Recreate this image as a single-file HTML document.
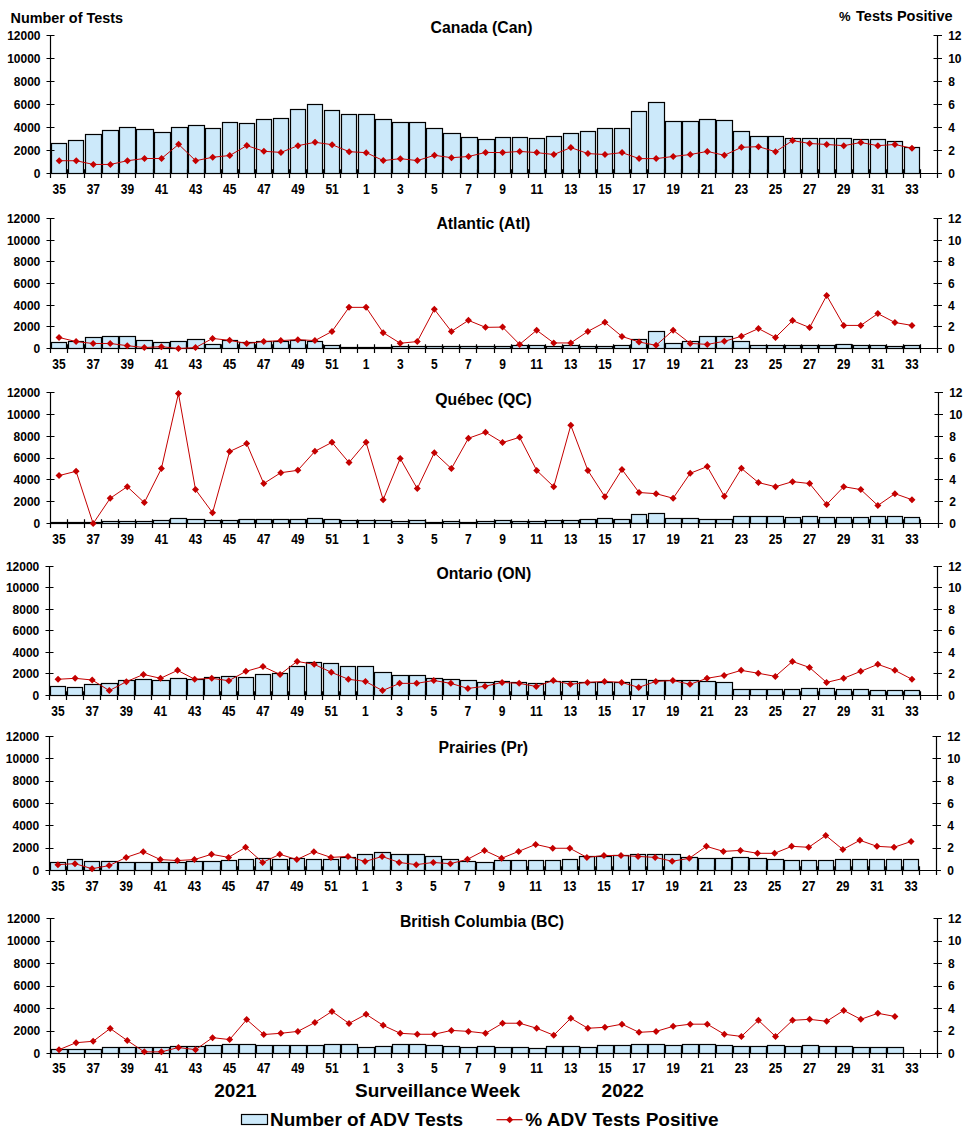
<!DOCTYPE html><html><head><meta charset="utf-8"><style>html,body{margin:0;padding:0;background:#fff;}svg{display:block;}text{font-family:"Liberation Sans", sans-serif;font-weight:bold;fill:#000;}</style></head><body>
<svg width="967" height="1140" viewBox="0 0 967 1140">
<rect width="967" height="1140" fill="#fff"/>
<text x="10.5" y="22.9" font-size="14.4">Number of Tests</text>
<text x="838.9" y="21" font-size="13">%</text><text x="856.1" y="21" font-size="14.5">Tests Positive</text>
<g fill="#CCE9FA" stroke="#000" stroke-width="1.20"><rect x="51.5" y="143.5" width="15.0" height="30.0"/><rect x="68.5" y="140.5" width="15.0" height="33.0"/><rect x="85.5" y="134.5" width="16.0" height="39.0"/><rect x="102.5" y="130.5" width="16.0" height="43.0"/><rect x="119.5" y="127.5" width="16.0" height="46.0"/><rect x="136.5" y="129.5" width="17.0" height="44.0"/><rect x="154.5" y="132.5" width="16.0" height="41.0"/><rect x="171.5" y="127.5" width="16.0" height="46.0"/><rect x="188.5" y="125.5" width="16.0" height="48.0"/><rect x="205.5" y="128.5" width="15.0" height="45.0"/><rect x="222.5" y="122.5" width="15.0" height="51.0"/><rect x="239.5" y="123.5" width="15.0" height="50.0"/><rect x="256.5" y="119.5" width="15.0" height="54.0"/><rect x="273.5" y="118.5" width="15.0" height="55.0"/><rect x="290.5" y="109.5" width="15.0" height="64.0"/><rect x="307.5" y="104.5" width="15.0" height="69.0"/><rect x="324.5" y="110.5" width="15.0" height="63.0"/><rect x="341.5" y="114.5" width="15.0" height="59.0"/><rect x="358.5" y="114.5" width="16.0" height="59.0"/><rect x="375.5" y="119.5" width="16.0" height="54.0"/><rect x="392.5" y="122.5" width="16.0" height="51.0"/><rect x="409.5" y="122.5" width="16.0" height="51.0"/><rect x="426.5" y="128.5" width="16.0" height="45.0"/><rect x="443.5" y="133.5" width="17.0" height="40.0"/><rect x="461.5" y="137.5" width="16.0" height="36.0"/><rect x="478.5" y="139.5" width="16.0" height="34.0"/><rect x="495.5" y="137.5" width="15.0" height="36.0"/><rect x="512.5" y="137.5" width="15.0" height="36.0"/><rect x="529.5" y="138.5" width="15.0" height="35.0"/><rect x="546.5" y="136.5" width="15.0" height="37.0"/><rect x="563.5" y="133.5" width="15.0" height="40.0"/><rect x="580.5" y="131.5" width="15.0" height="42.0"/><rect x="597.5" y="128.5" width="15.0" height="45.0"/><rect x="614.5" y="128.5" width="15.0" height="45.0"/><rect x="631.5" y="111.5" width="15.0" height="62.0"/><rect x="648.5" y="102.5" width="16.0" height="71.0"/><rect x="665.5" y="121.5" width="16.0" height="52.0"/><rect x="682.5" y="121.5" width="16.0" height="52.0"/><rect x="699.5" y="119.5" width="16.0" height="54.0"/><rect x="716.5" y="120.5" width="16.0" height="53.0"/><rect x="733.5" y="131.5" width="16.0" height="42.0"/><rect x="750.5" y="136.5" width="17.0" height="37.0"/><rect x="768.5" y="136.5" width="15.0" height="37.0"/><rect x="785.5" y="138.5" width="15.0" height="35.0"/><rect x="802.5" y="138.5" width="15.0" height="35.0"/><rect x="819.5" y="138.5" width="15.0" height="35.0"/><rect x="836.5" y="138.5" width="15.0" height="35.0"/><rect x="853.5" y="139.5" width="15.0" height="34.0"/><rect x="870.5" y="139.5" width="15.0" height="34.0"/><rect x="887.5" y="141.5" width="15.0" height="32.0"/><rect x="904.5" y="147.5" width="15.0" height="26.0"/></g>
<path d="M50.5 35.50 V173.5 M937.5 35.50 V173.5 M50.5 173.5 H937.5 M46.5 173.5 H54.5 M933.5 173.5 H942.0 M46.5 150.5 H54.5 M933.5 150.5 H942.0 M46.5 127.5 H54.5 M933.5 127.5 H942.0 M46.5 104.5 H54.5 M933.5 104.5 H942.0 M46.5 81.5 H54.5 M933.5 81.5 H942.0 M46.5 58.5 H54.5 M933.5 58.5 H942.0 M46.5 35.5 H54.5 M933.5 35.5 H942.0 M50.5 169.3 V177.9 M67.5 169.3 V177.9 M84.5 169.3 V177.9 M101.5 169.3 V177.9 M118.5 169.3 V177.9 M135.5 169.3 V177.9 M153.5 169.3 V177.9 M170.5 169.3 V177.9 M187.5 169.3 V177.9 M204.5 169.3 V177.9 M221.5 169.3 V177.9 M238.5 169.3 V177.9 M255.5 169.3 V177.9 M272.5 169.3 V177.9 M289.5 169.3 V177.9 M306.5 169.3 V177.9 M323.5 169.3 V177.9 M340.5 169.3 V177.9 M357.5 169.3 V177.9 M374.5 169.3 V177.9 M391.5 169.3 V177.9 M408.5 169.3 V177.9 M425.5 169.3 V177.9 M442.5 169.3 V177.9 M460.5 169.3 V177.9 M477.5 169.3 V177.9 M494.5 169.3 V177.9 M511.5 169.3 V177.9 M528.5 169.3 V177.9 M545.5 169.3 V177.9 M562.5 169.3 V177.9 M579.5 169.3 V177.9 M596.5 169.3 V177.9 M613.5 169.3 V177.9 M630.5 169.3 V177.9 M647.5 169.3 V177.9 M664.5 169.3 V177.9 M681.5 169.3 V177.9 M698.5 169.3 V177.9 M715.5 169.3 V177.9 M732.5 169.3 V177.9 M749.5 169.3 V177.9 M767.5 169.3 V177.9 M784.5 169.3 V177.9 M801.5 169.3 V177.9 M818.5 169.3 V177.9 M835.5 169.3 V177.9 M852.5 169.3 V177.9 M869.5 169.3 V177.9 M886.5 169.3 V177.9 M903.5 169.3 V177.9 M920.5 169.3 V177.9 M937.5 169.3 V177.9" stroke="#000" stroke-width="1.20" fill="none"/>
<polyline points="59.23,160.72 76.28,160.72 93.34,164.44 110.39,164.44 127.45,160.72 144.50,158.49 161.56,158.49 178.61,144.34 195.67,160.72 212.72,157.25 229.78,155.51 246.83,145.58 263.89,151.29 280.94,152.41 298.00,145.66 315.05,142.29 332.11,144.70 349.16,151.69 366.22,152.65 383.27,160.60 400.33,158.67 417.38,160.60 434.44,155.30 451.49,157.71 468.55,156.51 485.60,152.41 502.65,152.62 519.71,151.42 536.76,152.62 553.82,154.54 570.87,147.58 587.93,153.58 604.98,154.54 622.04,152.62 639.09,158.62 656.15,158.62 673.20,156.46 690.26,154.54 707.31,151.42 724.37,155.30 741.42,147.35 758.48,146.63 775.53,151.69 792.59,140.60 809.64,143.49 826.70,144.46 843.75,145.66 860.81,142.53 877.86,145.66 894.92,144.46 911.97,148.31" fill="none" stroke="#C40000" stroke-width="1"/>
<path d="M59.23 157.22 l3.5 3.5 l-3.5 3.5 l-3.5 -3.5z M76.28 157.22 l3.5 3.5 l-3.5 3.5 l-3.5 -3.5z M93.34 160.94 l3.5 3.5 l-3.5 3.5 l-3.5 -3.5z M110.39 160.94 l3.5 3.5 l-3.5 3.5 l-3.5 -3.5z M127.45 157.22 l3.5 3.5 l-3.5 3.5 l-3.5 -3.5z M144.50 154.99 l3.5 3.5 l-3.5 3.5 l-3.5 -3.5z M161.56 154.99 l3.5 3.5 l-3.5 3.5 l-3.5 -3.5z M178.61 140.84 l3.5 3.5 l-3.5 3.5 l-3.5 -3.5z M195.67 157.22 l3.5 3.5 l-3.5 3.5 l-3.5 -3.5z M212.72 153.75 l3.5 3.5 l-3.5 3.5 l-3.5 -3.5z M229.78 152.01 l3.5 3.5 l-3.5 3.5 l-3.5 -3.5z M246.83 142.08 l3.5 3.5 l-3.5 3.5 l-3.5 -3.5z M263.89 147.79 l3.5 3.5 l-3.5 3.5 l-3.5 -3.5z M280.94 148.91 l3.5 3.5 l-3.5 3.5 l-3.5 -3.5z M298.00 142.16 l3.5 3.5 l-3.5 3.5 l-3.5 -3.5z M315.05 138.79 l3.5 3.5 l-3.5 3.5 l-3.5 -3.5z M332.11 141.20 l3.5 3.5 l-3.5 3.5 l-3.5 -3.5z M349.16 148.19 l3.5 3.5 l-3.5 3.5 l-3.5 -3.5z M366.22 149.15 l3.5 3.5 l-3.5 3.5 l-3.5 -3.5z M383.27 157.10 l3.5 3.5 l-3.5 3.5 l-3.5 -3.5z M400.33 155.17 l3.5 3.5 l-3.5 3.5 l-3.5 -3.5z M417.38 157.10 l3.5 3.5 l-3.5 3.5 l-3.5 -3.5z M434.44 151.80 l3.5 3.5 l-3.5 3.5 l-3.5 -3.5z M451.49 154.21 l3.5 3.5 l-3.5 3.5 l-3.5 -3.5z M468.55 153.01 l3.5 3.5 l-3.5 3.5 l-3.5 -3.5z M485.60 148.91 l3.5 3.5 l-3.5 3.5 l-3.5 -3.5z M502.65 149.12 l3.5 3.5 l-3.5 3.5 l-3.5 -3.5z M519.71 147.92 l3.5 3.5 l-3.5 3.5 l-3.5 -3.5z M536.76 149.12 l3.5 3.5 l-3.5 3.5 l-3.5 -3.5z M553.82 151.04 l3.5 3.5 l-3.5 3.5 l-3.5 -3.5z M570.87 144.08 l3.5 3.5 l-3.5 3.5 l-3.5 -3.5z M587.93 150.08 l3.5 3.5 l-3.5 3.5 l-3.5 -3.5z M604.98 151.04 l3.5 3.5 l-3.5 3.5 l-3.5 -3.5z M622.04 149.12 l3.5 3.5 l-3.5 3.5 l-3.5 -3.5z M639.09 155.12 l3.5 3.5 l-3.5 3.5 l-3.5 -3.5z M656.15 155.12 l3.5 3.5 l-3.5 3.5 l-3.5 -3.5z M673.20 152.96 l3.5 3.5 l-3.5 3.5 l-3.5 -3.5z M690.26 151.04 l3.5 3.5 l-3.5 3.5 l-3.5 -3.5z M707.31 147.92 l3.5 3.5 l-3.5 3.5 l-3.5 -3.5z M724.37 151.80 l3.5 3.5 l-3.5 3.5 l-3.5 -3.5z M741.42 143.85 l3.5 3.5 l-3.5 3.5 l-3.5 -3.5z M758.48 143.13 l3.5 3.5 l-3.5 3.5 l-3.5 -3.5z M775.53 148.19 l3.5 3.5 l-3.5 3.5 l-3.5 -3.5z M792.59 137.10 l3.5 3.5 l-3.5 3.5 l-3.5 -3.5z M809.64 139.99 l3.5 3.5 l-3.5 3.5 l-3.5 -3.5z M826.70 140.96 l3.5 3.5 l-3.5 3.5 l-3.5 -3.5z M843.75 142.16 l3.5 3.5 l-3.5 3.5 l-3.5 -3.5z M860.81 139.03 l3.5 3.5 l-3.5 3.5 l-3.5 -3.5z M877.86 142.16 l3.5 3.5 l-3.5 3.5 l-3.5 -3.5z M894.92 140.96 l3.5 3.5 l-3.5 3.5 l-3.5 -3.5z M911.97 144.81 l3.5 3.5 l-3.5 3.5 l-3.5 -3.5z" fill="#C40000"/>
<text x="40.50" y="177.80" font-size="12" text-anchor="end">0</text><text x="948.20" y="177.80" font-size="12">0</text><text x="40.50" y="154.80" font-size="12" text-anchor="end">2000</text><text x="948.20" y="154.80" font-size="12">2</text><text x="40.50" y="131.80" font-size="12" text-anchor="end">4000</text><text x="948.20" y="131.80" font-size="12">4</text><text x="40.50" y="108.80" font-size="12" text-anchor="end">6000</text><text x="948.20" y="108.80" font-size="12">6</text><text x="40.50" y="85.80" font-size="12" text-anchor="end">8000</text><text x="948.20" y="85.80" font-size="12">8</text><text x="40.50" y="62.80" font-size="12" text-anchor="end">10000</text><text x="948.20" y="62.80" font-size="12">10</text><text x="40.50" y="39.80" font-size="12" text-anchor="end">12000</text><text x="948.20" y="39.80" font-size="12">12</text><text transform="translate(59.23 193.90) scale(1 1.15)" font-size="12" text-anchor="middle">35</text><text transform="translate(93.34 193.90) scale(1 1.15)" font-size="12" text-anchor="middle">37</text><text transform="translate(127.45 193.90) scale(1 1.15)" font-size="12" text-anchor="middle">39</text><text transform="translate(161.56 193.90) scale(1 1.15)" font-size="12" text-anchor="middle">41</text><text transform="translate(195.67 193.90) scale(1 1.15)" font-size="12" text-anchor="middle">43</text><text transform="translate(229.78 193.90) scale(1 1.15)" font-size="12" text-anchor="middle">45</text><text transform="translate(263.89 193.90) scale(1 1.15)" font-size="12" text-anchor="middle">47</text><text transform="translate(298.00 193.90) scale(1 1.15)" font-size="12" text-anchor="middle">49</text><text transform="translate(332.11 193.90) scale(1 1.15)" font-size="12" text-anchor="middle">51</text><text transform="translate(366.22 193.90) scale(1 1.15)" font-size="12" text-anchor="middle">1</text><text transform="translate(400.33 193.90) scale(1 1.15)" font-size="12" text-anchor="middle">3</text><text transform="translate(434.44 193.90) scale(1 1.15)" font-size="12" text-anchor="middle">5</text><text transform="translate(468.55 193.90) scale(1 1.15)" font-size="12" text-anchor="middle">7</text><text transform="translate(502.65 193.90) scale(1 1.15)" font-size="12" text-anchor="middle">9</text><text transform="translate(536.76 193.90) scale(1 1.15)" font-size="12" text-anchor="middle">11</text><text transform="translate(570.87 193.90) scale(1 1.15)" font-size="12" text-anchor="middle">13</text><text transform="translate(604.98 193.90) scale(1 1.15)" font-size="12" text-anchor="middle">15</text><text transform="translate(639.09 193.90) scale(1 1.15)" font-size="12" text-anchor="middle">17</text><text transform="translate(673.20 193.90) scale(1 1.15)" font-size="12" text-anchor="middle">19</text><text transform="translate(707.31 193.90) scale(1 1.15)" font-size="12" text-anchor="middle">21</text><text transform="translate(741.42 193.90) scale(1 1.15)" font-size="12" text-anchor="middle">23</text><text transform="translate(775.53 193.90) scale(1 1.15)" font-size="12" text-anchor="middle">25</text><text transform="translate(809.64 193.90) scale(1 1.15)" font-size="12" text-anchor="middle">27</text><text transform="translate(843.75 193.90) scale(1 1.15)" font-size="12" text-anchor="middle">29</text><text transform="translate(877.86 193.90) scale(1 1.15)" font-size="12" text-anchor="middle">31</text><text transform="translate(911.97 193.90) scale(1 1.15)" font-size="12" text-anchor="middle">33</text>
<text x="481.5" y="32.7" font-size="15.8" text-anchor="middle">Canada (Can)</text>
<g fill="#CCE9FA" stroke="#000" stroke-width="1.20"><rect x="51.5" y="342.5" width="15.0" height="6.0"/><rect x="68.5" y="341.5" width="15.0" height="7.0"/><rect x="85.5" y="337.5" width="16.0" height="11.0"/><rect x="102.5" y="336.5" width="16.0" height="12.0"/><rect x="119.5" y="336.5" width="16.0" height="12.0"/><rect x="136.5" y="340.5" width="16.0" height="8.0"/><rect x="153.5" y="342.5" width="16.0" height="6.0"/><rect x="170.5" y="341.5" width="16.0" height="7.0"/><rect x="187.5" y="339.5" width="17.0" height="9.0"/><rect x="205.5" y="344.5" width="15.0" height="4.0"/><rect x="222.5" y="340.5" width="15.0" height="8.0"/><rect x="239.5" y="342.5" width="15.0" height="6.0"/><rect x="256.5" y="341.5" width="15.0" height="7.0"/><rect x="273.5" y="341.5" width="15.0" height="7.0"/><rect x="290.5" y="340.5" width="15.0" height="8.0"/><rect x="307.5" y="341.5" width="15.0" height="7.0"/><rect x="324.5" y="345.5" width="15.0" height="3.0"/><rect x="341.5" y="347.5" width="15.0" height="1.0"/><rect x="358.5" y="347.5" width="16.0" height="1.0"/><rect x="375.5" y="347.5" width="16.0" height="1.0"/><rect x="392.5" y="346.5" width="16.0" height="2.0"/><rect x="409.5" y="346.5" width="16.0" height="2.0"/><rect x="426.5" y="346.5" width="16.0" height="2.0"/><rect x="443.5" y="346.5" width="16.0" height="2.0"/><rect x="460.5" y="346.5" width="16.0" height="2.0"/><rect x="477.5" y="346.5" width="17.0" height="2.0"/><rect x="495.5" y="346.5" width="15.0" height="2.0"/><rect x="512.5" y="345.5" width="15.0" height="3.0"/><rect x="529.5" y="345.5" width="15.0" height="3.0"/><rect x="546.5" y="346.5" width="15.0" height="2.0"/><rect x="563.5" y="345.5" width="15.0" height="3.0"/><rect x="580.5" y="346.5" width="15.0" height="2.0"/><rect x="597.5" y="346.5" width="15.0" height="2.0"/><rect x="614.5" y="345.5" width="15.0" height="3.0"/><rect x="631.5" y="339.5" width="15.0" height="9.0"/><rect x="648.5" y="331.5" width="16.0" height="17.0"/><rect x="665.5" y="343.5" width="16.0" height="5.0"/><rect x="682.5" y="341.5" width="16.0" height="7.0"/><rect x="699.5" y="336.5" width="16.0" height="12.0"/><rect x="716.5" y="336.5" width="16.0" height="12.0"/><rect x="733.5" y="341.5" width="16.0" height="7.0"/><rect x="750.5" y="345.5" width="16.0" height="3.0"/><rect x="767.5" y="345.5" width="16.0" height="3.0"/><rect x="785.5" y="345.5" width="15.0" height="3.0"/><rect x="802.5" y="345.5" width="15.0" height="3.0"/><rect x="819.5" y="345.5" width="15.0" height="3.0"/><rect x="836.5" y="344.5" width="15.0" height="4.0"/><rect x="853.5" y="345.5" width="15.0" height="3.0"/><rect x="870.5" y="345.5" width="15.0" height="3.0"/><rect x="887.5" y="346.5" width="15.0" height="2.0"/><rect x="904.5" y="345.5" width="15.0" height="3.0"/></g>
<path d="M50.5 218.60 V348.5 M937.5 218.60 V348.5 M50.5 348.5 H937.5 M46.5 348.5 H54.5 M933.5 348.5 H942.0 M46.5 326.5 H54.5 M933.5 326.5 H942.0 M46.5 305.5 H54.5 M933.5 305.5 H942.0 M46.5 283.5 H54.5 M933.5 283.5 H942.0 M46.5 261.5 H54.5 M933.5 261.5 H942.0 M46.5 240.5 H54.5 M933.5 240.5 H942.0 M46.5 218.5 H54.5 M933.5 218.5 H942.0 M50.5 344.3 V352.9 M67.5 344.3 V352.9 M84.5 344.3 V352.9 M101.5 344.3 V352.9 M118.5 344.3 V352.9 M135.5 344.3 V352.9 M152.5 344.3 V352.9 M169.5 344.3 V352.9 M186.5 344.3 V352.9 M204.5 344.3 V352.9 M221.5 344.3 V352.9 M238.5 344.3 V352.9 M255.5 344.3 V352.9 M272.5 344.3 V352.9 M289.5 344.3 V352.9 M306.5 344.3 V352.9 M323.5 344.3 V352.9 M340.5 344.3 V352.9 M357.5 344.3 V352.9 M374.5 344.3 V352.9 M391.5 344.3 V352.9 M408.5 344.3 V352.9 M425.5 344.3 V352.9 M442.5 344.3 V352.9 M459.5 344.3 V352.9 M476.5 344.3 V352.9 M494.5 344.3 V352.9 M511.5 344.3 V352.9 M528.5 344.3 V352.9 M545.5 344.3 V352.9 M562.5 344.3 V352.9 M579.5 344.3 V352.9 M596.5 344.3 V352.9 M613.5 344.3 V352.9 M630.5 344.3 V352.9 M647.5 344.3 V352.9 M664.5 344.3 V352.9 M681.5 344.3 V352.9 M698.5 344.3 V352.9 M715.5 344.3 V352.9 M732.5 344.3 V352.9 M749.5 344.3 V352.9 M766.5 344.3 V352.9 M784.5 344.3 V352.9 M801.5 344.3 V352.9 M818.5 344.3 V352.9 M835.5 344.3 V352.9 M852.5 344.3 V352.9 M869.5 344.3 V352.9 M886.5 344.3 V352.9 M903.5 344.3 V352.9 M920.5 344.3 V352.9 M937.5 344.3 V352.9" stroke="#000" stroke-width="1.20" fill="none"/>
<polyline points="59.03,337.47 76.09,341.57 93.15,343.49 110.21,343.49 127.26,345.66 144.32,347.59 161.38,346.63 178.44,348.55 195.50,347.59 212.56,338.43 229.62,340.36 246.68,343.49 263.74,341.57 280.79,340.60 297.85,339.64 314.91,340.60 331.97,331.45 349.03,307.35 366.09,307.35 383.15,332.65 400.21,343.25 417.26,341.57 434.32,309.28 451.38,331.45 468.44,320.36 485.50,327.35 502.56,327.10 519.62,344.38 536.68,330.22 553.74,342.94 570.79,342.94 587.85,331.42 604.91,322.30 621.97,336.46 639.03,341.98 656.09,345.34 673.15,330.22 690.21,343.42 707.26,344.38 724.32,341.33 741.38,336.27 758.44,328.55 775.50,337.47 792.56,320.60 809.62,327.59 826.68,295.54 843.74,325.42 860.79,325.42 877.85,313.61 894.91,322.53 911.97,325.42" fill="none" stroke="#C40000" stroke-width="1"/>
<path d="M59.03 333.97 l3.5 3.5 l-3.5 3.5 l-3.5 -3.5z M76.09 338.07 l3.5 3.5 l-3.5 3.5 l-3.5 -3.5z M93.15 339.99 l3.5 3.5 l-3.5 3.5 l-3.5 -3.5z M110.21 339.99 l3.5 3.5 l-3.5 3.5 l-3.5 -3.5z M127.26 342.16 l3.5 3.5 l-3.5 3.5 l-3.5 -3.5z M144.32 344.09 l3.5 3.5 l-3.5 3.5 l-3.5 -3.5z M161.38 343.13 l3.5 3.5 l-3.5 3.5 l-3.5 -3.5z M178.44 345.05 l3.5 3.5 l-3.5 3.5 l-3.5 -3.5z M195.50 344.09 l3.5 3.5 l-3.5 3.5 l-3.5 -3.5z M212.56 334.93 l3.5 3.5 l-3.5 3.5 l-3.5 -3.5z M229.62 336.86 l3.5 3.5 l-3.5 3.5 l-3.5 -3.5z M246.68 339.99 l3.5 3.5 l-3.5 3.5 l-3.5 -3.5z M263.74 338.07 l3.5 3.5 l-3.5 3.5 l-3.5 -3.5z M280.79 337.10 l3.5 3.5 l-3.5 3.5 l-3.5 -3.5z M297.85 336.14 l3.5 3.5 l-3.5 3.5 l-3.5 -3.5z M314.91 337.10 l3.5 3.5 l-3.5 3.5 l-3.5 -3.5z M331.97 327.95 l3.5 3.5 l-3.5 3.5 l-3.5 -3.5z M349.03 303.85 l3.5 3.5 l-3.5 3.5 l-3.5 -3.5z M366.09 303.85 l3.5 3.5 l-3.5 3.5 l-3.5 -3.5z M383.15 329.15 l3.5 3.5 l-3.5 3.5 l-3.5 -3.5z M400.21 339.75 l3.5 3.5 l-3.5 3.5 l-3.5 -3.5z M417.26 338.07 l3.5 3.5 l-3.5 3.5 l-3.5 -3.5z M434.32 305.78 l3.5 3.5 l-3.5 3.5 l-3.5 -3.5z M451.38 327.95 l3.5 3.5 l-3.5 3.5 l-3.5 -3.5z M468.44 316.86 l3.5 3.5 l-3.5 3.5 l-3.5 -3.5z M485.50 323.85 l3.5 3.5 l-3.5 3.5 l-3.5 -3.5z M502.56 323.60 l3.5 3.5 l-3.5 3.5 l-3.5 -3.5z M519.62 340.88 l3.5 3.5 l-3.5 3.5 l-3.5 -3.5z M536.68 326.72 l3.5 3.5 l-3.5 3.5 l-3.5 -3.5z M553.74 339.44 l3.5 3.5 l-3.5 3.5 l-3.5 -3.5z M570.79 339.44 l3.5 3.5 l-3.5 3.5 l-3.5 -3.5z M587.85 327.92 l3.5 3.5 l-3.5 3.5 l-3.5 -3.5z M604.91 318.80 l3.5 3.5 l-3.5 3.5 l-3.5 -3.5z M621.97 332.96 l3.5 3.5 l-3.5 3.5 l-3.5 -3.5z M639.03 338.48 l3.5 3.5 l-3.5 3.5 l-3.5 -3.5z M656.09 341.84 l3.5 3.5 l-3.5 3.5 l-3.5 -3.5z M673.15 326.72 l3.5 3.5 l-3.5 3.5 l-3.5 -3.5z M690.21 339.92 l3.5 3.5 l-3.5 3.5 l-3.5 -3.5z M707.26 340.88 l3.5 3.5 l-3.5 3.5 l-3.5 -3.5z M724.32 337.83 l3.5 3.5 l-3.5 3.5 l-3.5 -3.5z M741.38 332.77 l3.5 3.5 l-3.5 3.5 l-3.5 -3.5z M758.44 325.05 l3.5 3.5 l-3.5 3.5 l-3.5 -3.5z M775.50 333.97 l3.5 3.5 l-3.5 3.5 l-3.5 -3.5z M792.56 317.10 l3.5 3.5 l-3.5 3.5 l-3.5 -3.5z M809.62 324.09 l3.5 3.5 l-3.5 3.5 l-3.5 -3.5z M826.68 292.04 l3.5 3.5 l-3.5 3.5 l-3.5 -3.5z M843.74 321.92 l3.5 3.5 l-3.5 3.5 l-3.5 -3.5z M860.79 321.92 l3.5 3.5 l-3.5 3.5 l-3.5 -3.5z M877.85 310.11 l3.5 3.5 l-3.5 3.5 l-3.5 -3.5z M894.91 319.03 l3.5 3.5 l-3.5 3.5 l-3.5 -3.5z M911.97 321.92 l3.5 3.5 l-3.5 3.5 l-3.5 -3.5z" fill="#C40000"/>
<text x="40.30" y="352.80" font-size="12" text-anchor="end">0</text><text x="948.10" y="352.80" font-size="12">0</text><text x="40.30" y="331.15" font-size="12" text-anchor="end">2000</text><text x="948.10" y="331.15" font-size="12">2</text><text x="40.30" y="309.50" font-size="12" text-anchor="end">4000</text><text x="948.10" y="309.50" font-size="12">4</text><text x="40.30" y="287.85" font-size="12" text-anchor="end">6000</text><text x="948.10" y="287.85" font-size="12">6</text><text x="40.30" y="266.20" font-size="12" text-anchor="end">8000</text><text x="948.10" y="266.20" font-size="12">8</text><text x="40.30" y="244.55" font-size="12" text-anchor="end">10000</text><text x="948.10" y="244.55" font-size="12">10</text><text x="40.30" y="222.90" font-size="12" text-anchor="end">12000</text><text x="948.10" y="222.90" font-size="12">12</text><text transform="translate(59.03 368.90) scale(1 1.15)" font-size="12" text-anchor="middle">35</text><text transform="translate(93.15 368.90) scale(1 1.15)" font-size="12" text-anchor="middle">37</text><text transform="translate(127.26 368.90) scale(1 1.15)" font-size="12" text-anchor="middle">39</text><text transform="translate(161.38 368.90) scale(1 1.15)" font-size="12" text-anchor="middle">41</text><text transform="translate(195.50 368.90) scale(1 1.15)" font-size="12" text-anchor="middle">43</text><text transform="translate(229.62 368.90) scale(1 1.15)" font-size="12" text-anchor="middle">45</text><text transform="translate(263.74 368.90) scale(1 1.15)" font-size="12" text-anchor="middle">47</text><text transform="translate(297.85 368.90) scale(1 1.15)" font-size="12" text-anchor="middle">49</text><text transform="translate(331.97 368.90) scale(1 1.15)" font-size="12" text-anchor="middle">51</text><text transform="translate(366.09 368.90) scale(1 1.15)" font-size="12" text-anchor="middle">1</text><text transform="translate(400.21 368.90) scale(1 1.15)" font-size="12" text-anchor="middle">3</text><text transform="translate(434.32 368.90) scale(1 1.15)" font-size="12" text-anchor="middle">5</text><text transform="translate(468.44 368.90) scale(1 1.15)" font-size="12" text-anchor="middle">7</text><text transform="translate(502.56 368.90) scale(1 1.15)" font-size="12" text-anchor="middle">9</text><text transform="translate(536.68 368.90) scale(1 1.15)" font-size="12" text-anchor="middle">11</text><text transform="translate(570.79 368.90) scale(1 1.15)" font-size="12" text-anchor="middle">13</text><text transform="translate(604.91 368.90) scale(1 1.15)" font-size="12" text-anchor="middle">15</text><text transform="translate(639.03 368.90) scale(1 1.15)" font-size="12" text-anchor="middle">17</text><text transform="translate(673.15 368.90) scale(1 1.15)" font-size="12" text-anchor="middle">19</text><text transform="translate(707.26 368.90) scale(1 1.15)" font-size="12" text-anchor="middle">21</text><text transform="translate(741.38 368.90) scale(1 1.15)" font-size="12" text-anchor="middle">23</text><text transform="translate(775.50 368.90) scale(1 1.15)" font-size="12" text-anchor="middle">25</text><text transform="translate(809.62 368.90) scale(1 1.15)" font-size="12" text-anchor="middle">27</text><text transform="translate(843.74 368.90) scale(1 1.15)" font-size="12" text-anchor="middle">29</text><text transform="translate(877.85 368.90) scale(1 1.15)" font-size="12" text-anchor="middle">31</text><text transform="translate(911.97 368.90) scale(1 1.15)" font-size="12" text-anchor="middle">33</text>
<text x="483.4" y="229.3" font-size="15.8" text-anchor="middle">Atlantic (Atl)</text>
<g fill="#CCE9FA" stroke="#000" stroke-width="1.20"><rect x="51.5" y="522.5" width="15.0" height="1.0"/><rect x="68.5" y="522.5" width="15.0" height="1.0"/><rect x="85.5" y="522.5" width="16.0" height="1.0"/><rect x="102.5" y="521.5" width="16.0" height="2.0"/><rect x="119.5" y="521.5" width="16.0" height="2.0"/><rect x="136.5" y="521.5" width="16.0" height="2.0"/><rect x="153.5" y="520.5" width="16.0" height="3.0"/><rect x="170.5" y="518.5" width="16.0" height="5.0"/><rect x="187.5" y="519.5" width="17.0" height="4.0"/><rect x="205.5" y="520.5" width="15.0" height="3.0"/><rect x="222.5" y="520.5" width="15.0" height="3.0"/><rect x="239.5" y="519.5" width="15.0" height="4.0"/><rect x="256.5" y="519.5" width="15.0" height="4.0"/><rect x="273.5" y="519.5" width="15.0" height="4.0"/><rect x="290.5" y="519.5" width="15.0" height="4.0"/><rect x="307.5" y="518.5" width="15.0" height="5.0"/><rect x="324.5" y="519.5" width="15.0" height="4.0"/><rect x="341.5" y="520.5" width="15.0" height="3.0"/><rect x="358.5" y="520.5" width="16.0" height="3.0"/><rect x="375.5" y="520.5" width="16.0" height="3.0"/><rect x="392.5" y="521.5" width="16.0" height="2.0"/><rect x="409.5" y="520.5" width="16.0" height="3.0"/><rect x="426.5" y="522.5" width="16.0" height="1.0"/><rect x="443.5" y="521.5" width="16.0" height="2.0"/><rect x="460.5" y="522.5" width="16.0" height="1.0"/><rect x="477.5" y="521.5" width="17.0" height="2.0"/><rect x="495.5" y="520.5" width="15.0" height="3.0"/><rect x="512.5" y="521.5" width="15.0" height="2.0"/><rect x="529.5" y="521.5" width="15.0" height="2.0"/><rect x="546.5" y="520.5" width="15.0" height="3.0"/><rect x="563.5" y="520.5" width="15.0" height="3.0"/><rect x="580.5" y="519.5" width="15.0" height="4.0"/><rect x="597.5" y="518.5" width="15.0" height="5.0"/><rect x="614.5" y="519.5" width="15.0" height="4.0"/><rect x="631.5" y="514.5" width="15.0" height="9.0"/><rect x="648.5" y="513.5" width="16.0" height="10.0"/><rect x="665.5" y="518.5" width="16.0" height="5.0"/><rect x="682.5" y="518.5" width="16.0" height="5.0"/><rect x="699.5" y="519.5" width="16.0" height="4.0"/><rect x="716.5" y="519.5" width="16.0" height="4.0"/><rect x="733.5" y="516.5" width="16.0" height="7.0"/><rect x="750.5" y="516.5" width="16.0" height="7.0"/><rect x="767.5" y="516.5" width="16.0" height="7.0"/><rect x="785.5" y="517.5" width="15.0" height="6.0"/><rect x="802.5" y="516.5" width="15.0" height="7.0"/><rect x="819.5" y="517.5" width="15.0" height="6.0"/><rect x="836.5" y="517.5" width="15.0" height="6.0"/><rect x="853.5" y="517.5" width="15.0" height="6.0"/><rect x="870.5" y="516.5" width="15.0" height="7.0"/><rect x="887.5" y="516.5" width="15.0" height="7.0"/><rect x="904.5" y="517.5" width="15.0" height="6.0"/></g>
<path d="M50.5 392.60 V523.5 M938.5 392.60 V523.5 M50.5 523.5 H938.5 M46.5 523.5 H54.5 M934.5 523.5 H943.0 M46.5 501.5 H54.5 M934.5 501.5 H943.0 M46.5 479.5 H54.5 M934.5 479.5 H943.0 M46.5 458.5 H54.5 M934.5 458.5 H943.0 M46.5 436.5 H54.5 M934.5 436.5 H943.0 M46.5 414.5 H54.5 M934.5 414.5 H943.0 M46.5 392.5 H54.5 M934.5 392.5 H943.0 M50.5 519.3 V527.9 M67.5 519.3 V527.9 M84.5 519.3 V527.9 M101.5 519.3 V527.9 M118.5 519.3 V527.9 M135.5 519.3 V527.9 M152.5 519.3 V527.9 M169.5 519.3 V527.9 M186.5 519.3 V527.9 M204.5 519.3 V527.9 M221.5 519.3 V527.9 M238.5 519.3 V527.9 M255.5 519.3 V527.9 M272.5 519.3 V527.9 M289.5 519.3 V527.9 M306.5 519.3 V527.9 M323.5 519.3 V527.9 M340.5 519.3 V527.9 M357.5 519.3 V527.9 M374.5 519.3 V527.9 M391.5 519.3 V527.9 M408.5 519.3 V527.9 M425.5 519.3 V527.9 M442.5 519.3 V527.9 M459.5 519.3 V527.9 M476.5 519.3 V527.9 M494.5 519.3 V527.9 M511.5 519.3 V527.9 M528.5 519.3 V527.9 M545.5 519.3 V527.9 M562.5 519.3 V527.9 M579.5 519.3 V527.9 M596.5 519.3 V527.9 M613.5 519.3 V527.9 M630.5 519.3 V527.9 M647.5 519.3 V527.9 M664.5 519.3 V527.9 M681.5 519.3 V527.9 M698.5 519.3 V527.9 M715.5 519.3 V527.9 M732.5 519.3 V527.9 M749.5 519.3 V527.9 M766.5 519.3 V527.9 M784.5 519.3 V527.9 M801.5 519.3 V527.9 M818.5 519.3 V527.9 M835.5 519.3 V527.9 M852.5 519.3 V527.9 M869.5 519.3 V527.9 M886.5 519.3 V527.9 M903.5 519.3 V527.9 M920.5 519.3 V527.9 M938.5 519.3 V527.9" stroke="#000" stroke-width="1.20" fill="none"/>
<polyline points="59.03,475.60 76.09,471.27 93.15,523.55 110.21,498.25 127.26,486.69 144.32,502.59 161.38,468.61 178.44,393.43 195.50,489.58 212.56,512.71 229.62,451.51 246.68,443.55 263.74,483.55 280.79,472.71 297.85,470.30 314.91,451.27 331.97,442.35 349.03,462.59 366.09,442.35 383.15,499.70 400.21,458.49 417.26,488.61 434.32,452.71 451.38,468.61 468.44,438.25 485.50,432.23 502.56,442.58 519.62,437.30 536.68,470.41 553.74,486.73 570.79,425.31 587.85,470.41 604.91,496.80 621.97,469.45 639.03,492.49 656.09,493.69 673.15,498.24 690.21,473.29 707.26,466.57 724.32,496.33 741.38,468.37 758.44,482.59 775.50,486.69 792.56,481.63 809.62,483.55 826.68,504.52 843.74,486.69 860.79,489.58 877.85,505.48 894.91,493.67 911.97,499.70" fill="none" stroke="#C40000" stroke-width="1"/>
<path d="M59.03 472.10 l3.5 3.5 l-3.5 3.5 l-3.5 -3.5z M76.09 467.77 l3.5 3.5 l-3.5 3.5 l-3.5 -3.5z M93.15 520.05 l3.5 3.5 l-3.5 3.5 l-3.5 -3.5z M110.21 494.75 l3.5 3.5 l-3.5 3.5 l-3.5 -3.5z M127.26 483.19 l3.5 3.5 l-3.5 3.5 l-3.5 -3.5z M144.32 499.09 l3.5 3.5 l-3.5 3.5 l-3.5 -3.5z M161.38 465.11 l3.5 3.5 l-3.5 3.5 l-3.5 -3.5z M178.44 389.93 l3.5 3.5 l-3.5 3.5 l-3.5 -3.5z M195.50 486.08 l3.5 3.5 l-3.5 3.5 l-3.5 -3.5z M212.56 509.21 l3.5 3.5 l-3.5 3.5 l-3.5 -3.5z M229.62 448.01 l3.5 3.5 l-3.5 3.5 l-3.5 -3.5z M246.68 440.05 l3.5 3.5 l-3.5 3.5 l-3.5 -3.5z M263.74 480.05 l3.5 3.5 l-3.5 3.5 l-3.5 -3.5z M280.79 469.21 l3.5 3.5 l-3.5 3.5 l-3.5 -3.5z M297.85 466.80 l3.5 3.5 l-3.5 3.5 l-3.5 -3.5z M314.91 447.77 l3.5 3.5 l-3.5 3.5 l-3.5 -3.5z M331.97 438.85 l3.5 3.5 l-3.5 3.5 l-3.5 -3.5z M349.03 459.09 l3.5 3.5 l-3.5 3.5 l-3.5 -3.5z M366.09 438.85 l3.5 3.5 l-3.5 3.5 l-3.5 -3.5z M383.15 496.20 l3.5 3.5 l-3.5 3.5 l-3.5 -3.5z M400.21 454.99 l3.5 3.5 l-3.5 3.5 l-3.5 -3.5z M417.26 485.11 l3.5 3.5 l-3.5 3.5 l-3.5 -3.5z M434.32 449.21 l3.5 3.5 l-3.5 3.5 l-3.5 -3.5z M451.38 465.11 l3.5 3.5 l-3.5 3.5 l-3.5 -3.5z M468.44 434.75 l3.5 3.5 l-3.5 3.5 l-3.5 -3.5z M485.50 428.73 l3.5 3.5 l-3.5 3.5 l-3.5 -3.5z M502.56 439.08 l3.5 3.5 l-3.5 3.5 l-3.5 -3.5z M519.62 433.80 l3.5 3.5 l-3.5 3.5 l-3.5 -3.5z M536.68 466.91 l3.5 3.5 l-3.5 3.5 l-3.5 -3.5z M553.74 483.23 l3.5 3.5 l-3.5 3.5 l-3.5 -3.5z M570.79 421.81 l3.5 3.5 l-3.5 3.5 l-3.5 -3.5z M587.85 466.91 l3.5 3.5 l-3.5 3.5 l-3.5 -3.5z M604.91 493.30 l3.5 3.5 l-3.5 3.5 l-3.5 -3.5z M621.97 465.95 l3.5 3.5 l-3.5 3.5 l-3.5 -3.5z M639.03 488.99 l3.5 3.5 l-3.5 3.5 l-3.5 -3.5z M656.09 490.19 l3.5 3.5 l-3.5 3.5 l-3.5 -3.5z M673.15 494.74 l3.5 3.5 l-3.5 3.5 l-3.5 -3.5z M690.21 469.79 l3.5 3.5 l-3.5 3.5 l-3.5 -3.5z M707.26 463.07 l3.5 3.5 l-3.5 3.5 l-3.5 -3.5z M724.32 492.83 l3.5 3.5 l-3.5 3.5 l-3.5 -3.5z M741.38 464.87 l3.5 3.5 l-3.5 3.5 l-3.5 -3.5z M758.44 479.09 l3.5 3.5 l-3.5 3.5 l-3.5 -3.5z M775.50 483.19 l3.5 3.5 l-3.5 3.5 l-3.5 -3.5z M792.56 478.13 l3.5 3.5 l-3.5 3.5 l-3.5 -3.5z M809.62 480.05 l3.5 3.5 l-3.5 3.5 l-3.5 -3.5z M826.68 501.02 l3.5 3.5 l-3.5 3.5 l-3.5 -3.5z M843.74 483.19 l3.5 3.5 l-3.5 3.5 l-3.5 -3.5z M860.79 486.08 l3.5 3.5 l-3.5 3.5 l-3.5 -3.5z M877.85 501.98 l3.5 3.5 l-3.5 3.5 l-3.5 -3.5z M894.91 490.17 l3.5 3.5 l-3.5 3.5 l-3.5 -3.5z M911.97 496.20 l3.5 3.5 l-3.5 3.5 l-3.5 -3.5z" fill="#C40000"/>
<text x="40.30" y="527.70" font-size="12" text-anchor="end">0</text><text x="949.20" y="527.70" font-size="12">0</text><text x="40.30" y="505.90" font-size="12" text-anchor="end">2000</text><text x="949.20" y="505.90" font-size="12">2</text><text x="40.30" y="484.10" font-size="12" text-anchor="end">4000</text><text x="949.20" y="484.10" font-size="12">4</text><text x="40.30" y="462.30" font-size="12" text-anchor="end">6000</text><text x="949.20" y="462.30" font-size="12">6</text><text x="40.30" y="440.50" font-size="12" text-anchor="end">8000</text><text x="949.20" y="440.50" font-size="12">8</text><text x="40.30" y="418.70" font-size="12" text-anchor="end">10000</text><text x="949.20" y="418.70" font-size="12">10</text><text x="40.30" y="396.90" font-size="12" text-anchor="end">12000</text><text x="949.20" y="396.90" font-size="12">12</text><text transform="translate(59.03 543.80) scale(1 1.15)" font-size="12" text-anchor="middle">35</text><text transform="translate(93.15 543.80) scale(1 1.15)" font-size="12" text-anchor="middle">37</text><text transform="translate(127.26 543.80) scale(1 1.15)" font-size="12" text-anchor="middle">39</text><text transform="translate(161.38 543.80) scale(1 1.15)" font-size="12" text-anchor="middle">41</text><text transform="translate(195.50 543.80) scale(1 1.15)" font-size="12" text-anchor="middle">43</text><text transform="translate(229.62 543.80) scale(1 1.15)" font-size="12" text-anchor="middle">45</text><text transform="translate(263.74 543.80) scale(1 1.15)" font-size="12" text-anchor="middle">47</text><text transform="translate(297.85 543.80) scale(1 1.15)" font-size="12" text-anchor="middle">49</text><text transform="translate(331.97 543.80) scale(1 1.15)" font-size="12" text-anchor="middle">51</text><text transform="translate(366.09 543.80) scale(1 1.15)" font-size="12" text-anchor="middle">1</text><text transform="translate(400.21 543.80) scale(1 1.15)" font-size="12" text-anchor="middle">3</text><text transform="translate(434.32 543.80) scale(1 1.15)" font-size="12" text-anchor="middle">5</text><text transform="translate(468.44 543.80) scale(1 1.15)" font-size="12" text-anchor="middle">7</text><text transform="translate(502.56 543.80) scale(1 1.15)" font-size="12" text-anchor="middle">9</text><text transform="translate(536.68 543.80) scale(1 1.15)" font-size="12" text-anchor="middle">11</text><text transform="translate(570.79 543.80) scale(1 1.15)" font-size="12" text-anchor="middle">13</text><text transform="translate(604.91 543.80) scale(1 1.15)" font-size="12" text-anchor="middle">15</text><text transform="translate(639.03 543.80) scale(1 1.15)" font-size="12" text-anchor="middle">17</text><text transform="translate(673.15 543.80) scale(1 1.15)" font-size="12" text-anchor="middle">19</text><text transform="translate(707.26 543.80) scale(1 1.15)" font-size="12" text-anchor="middle">21</text><text transform="translate(741.38 543.80) scale(1 1.15)" font-size="12" text-anchor="middle">23</text><text transform="translate(775.50 543.80) scale(1 1.15)" font-size="12" text-anchor="middle">25</text><text transform="translate(809.62 543.80) scale(1 1.15)" font-size="12" text-anchor="middle">27</text><text transform="translate(843.74 543.80) scale(1 1.15)" font-size="12" text-anchor="middle">29</text><text transform="translate(877.85 543.80) scale(1 1.15)" font-size="12" text-anchor="middle">31</text><text transform="translate(911.97 543.80) scale(1 1.15)" font-size="12" text-anchor="middle">33</text>
<text x="483.6" y="404.5" font-size="15.8" text-anchor="middle">Québec (QC)</text>
<g fill="#CCE9FA" stroke="#000" stroke-width="1.20"><rect x="50.5" y="686.5" width="15.0" height="9.0"/><rect x="67.5" y="687.5" width="15.0" height="8.0"/><rect x="84.5" y="684.5" width="16.0" height="11.0"/><rect x="101.5" y="683.5" width="16.0" height="12.0"/><rect x="118.5" y="680.5" width="16.0" height="15.0"/><rect x="135.5" y="679.5" width="16.0" height="16.0"/><rect x="152.5" y="680.5" width="17.0" height="15.0"/><rect x="170.5" y="678.5" width="16.0" height="17.0"/><rect x="187.5" y="679.5" width="16.0" height="16.0"/><rect x="204.5" y="677.5" width="15.0" height="18.0"/><rect x="221.5" y="676.5" width="15.0" height="19.0"/><rect x="238.5" y="677.5" width="15.0" height="18.0"/><rect x="255.5" y="674.5" width="15.0" height="21.0"/><rect x="272.5" y="673.5" width="15.0" height="22.0"/><rect x="289.5" y="666.5" width="15.0" height="29.0"/><rect x="306.5" y="662.5" width="15.0" height="33.0"/><rect x="323.5" y="663.5" width="15.0" height="32.0"/><rect x="340.5" y="666.5" width="15.0" height="29.0"/><rect x="357.5" y="666.5" width="16.0" height="29.0"/><rect x="374.5" y="672.5" width="17.0" height="23.0"/><rect x="392.5" y="675.5" width="16.0" height="20.0"/><rect x="409.5" y="675.5" width="16.0" height="20.0"/><rect x="426.5" y="678.5" width="16.0" height="17.0"/><rect x="443.5" y="679.5" width="16.0" height="16.0"/><rect x="460.5" y="680.5" width="16.0" height="15.0"/><rect x="477.5" y="682.5" width="16.0" height="13.0"/><rect x="494.5" y="681.5" width="15.0" height="14.0"/><rect x="511.5" y="682.5" width="15.0" height="13.0"/><rect x="528.5" y="683.5" width="15.0" height="12.0"/><rect x="545.5" y="681.5" width="15.0" height="14.0"/><rect x="562.5" y="681.5" width="15.0" height="14.0"/><rect x="579.5" y="682.5" width="16.0" height="13.0"/><rect x="597.5" y="682.5" width="15.0" height="13.0"/><rect x="614.5" y="682.5" width="15.0" height="13.0"/><rect x="631.5" y="679.5" width="15.0" height="16.0"/><rect x="648.5" y="680.5" width="16.0" height="15.0"/><rect x="665.5" y="680.5" width="16.0" height="15.0"/><rect x="682.5" y="680.5" width="16.0" height="15.0"/><rect x="699.5" y="681.5" width="16.0" height="14.0"/><rect x="716.5" y="682.5" width="16.0" height="13.0"/><rect x="733.5" y="689.5" width="16.0" height="6.0"/><rect x="750.5" y="689.5" width="16.0" height="6.0"/><rect x="767.5" y="689.5" width="15.0" height="6.0"/><rect x="784.5" y="689.5" width="15.0" height="6.0"/><rect x="801.5" y="688.5" width="16.0" height="7.0"/><rect x="819.5" y="688.5" width="15.0" height="7.0"/><rect x="836.5" y="689.5" width="15.0" height="6.0"/><rect x="853.5" y="689.5" width="15.0" height="6.0"/><rect x="870.5" y="690.5" width="15.0" height="5.0"/><rect x="887.5" y="690.5" width="15.0" height="5.0"/><rect x="904.5" y="690.5" width="15.0" height="5.0"/></g>
<path d="M49.5 566.50 V695.5 M937.5 566.50 V695.5 M49.5 695.5 H937.5 M45.5 695.5 H53.5 M933.5 695.5 H942.0 M45.5 673.5 H53.5 M933.5 673.5 H942.0 M45.5 652.5 H53.5 M933.5 652.5 H942.0 M45.5 630.5 H53.5 M933.5 630.5 H942.0 M45.5 609.5 H53.5 M933.5 609.5 H942.0 M45.5 587.5 H53.5 M933.5 587.5 H942.0 M45.5 566.5 H53.5 M933.5 566.5 H942.0 M49.5 691.3 V699.9 M66.5 691.3 V699.9 M83.5 691.3 V699.9 M100.5 691.3 V699.9 M117.5 691.3 V699.9 M134.5 691.3 V699.9 M151.5 691.3 V699.9 M169.5 691.3 V699.9 M186.5 691.3 V699.9 M203.5 691.3 V699.9 M220.5 691.3 V699.9 M237.5 691.3 V699.9 M254.5 691.3 V699.9 M271.5 691.3 V699.9 M288.5 691.3 V699.9 M305.5 691.3 V699.9 M322.5 691.3 V699.9 M339.5 691.3 V699.9 M356.5 691.3 V699.9 M373.5 691.3 V699.9 M391.5 691.3 V699.9 M408.5 691.3 V699.9 M425.5 691.3 V699.9 M442.5 691.3 V699.9 M459.5 691.3 V699.9 M476.5 691.3 V699.9 M493.5 691.3 V699.9 M510.5 691.3 V699.9 M527.5 691.3 V699.9 M544.5 691.3 V699.9 M561.5 691.3 V699.9 M578.5 691.3 V699.9 M596.5 691.3 V699.9 M613.5 691.3 V699.9 M630.5 691.3 V699.9 M647.5 691.3 V699.9 M664.5 691.3 V699.9 M681.5 691.3 V699.9 M698.5 691.3 V699.9 M715.5 691.3 V699.9 M732.5 691.3 V699.9 M749.5 691.3 V699.9 M766.5 691.3 V699.9 M783.5 691.3 V699.9 M800.5 691.3 V699.9 M818.5 691.3 V699.9 M835.5 691.3 V699.9 M852.5 691.3 V699.9 M869.5 691.3 V699.9 M886.5 691.3 V699.9 M903.5 691.3 V699.9 M920.5 691.3 V699.9 M937.5 691.3 V699.9" stroke="#000" stroke-width="1.20" fill="none"/>
<polyline points="58.04,679.28 75.12,678.31 92.20,680.00 109.27,690.60 126.35,681.69 143.43,674.46 160.51,678.31 177.59,670.36 194.67,679.28 211.75,678.31 228.82,680.72 245.90,671.33 262.98,666.51 280.06,674.46 297.14,661.45 314.22,664.34 331.29,672.29 348.37,679.28 365.45,681.45 382.53,690.60 399.61,683.37 416.69,683.37 433.76,680.48 450.84,683.37 467.92,688.43 485.00,686.27 502.08,682.38 519.16,683.34 536.24,686.46 553.31,680.46 570.39,684.30 587.47,682.38 604.55,681.42 621.63,682.38 638.71,687.42 655.78,681.42 672.86,680.46 689.94,684.30 707.02,678.30 724.10,675.42 741.18,670.36 758.25,673.25 775.33,676.39 792.41,661.45 809.49,667.47 826.57,682.41 843.65,678.31 860.73,671.33 877.80,664.34 894.88,670.36 911.96,679.28" fill="none" stroke="#C40000" stroke-width="1"/>
<path d="M58.04 675.78 l3.5 3.5 l-3.5 3.5 l-3.5 -3.5z M75.12 674.81 l3.5 3.5 l-3.5 3.5 l-3.5 -3.5z M92.20 676.50 l3.5 3.5 l-3.5 3.5 l-3.5 -3.5z M109.27 687.10 l3.5 3.5 l-3.5 3.5 l-3.5 -3.5z M126.35 678.19 l3.5 3.5 l-3.5 3.5 l-3.5 -3.5z M143.43 670.96 l3.5 3.5 l-3.5 3.5 l-3.5 -3.5z M160.51 674.81 l3.5 3.5 l-3.5 3.5 l-3.5 -3.5z M177.59 666.86 l3.5 3.5 l-3.5 3.5 l-3.5 -3.5z M194.67 675.78 l3.5 3.5 l-3.5 3.5 l-3.5 -3.5z M211.75 674.81 l3.5 3.5 l-3.5 3.5 l-3.5 -3.5z M228.82 677.22 l3.5 3.5 l-3.5 3.5 l-3.5 -3.5z M245.90 667.83 l3.5 3.5 l-3.5 3.5 l-3.5 -3.5z M262.98 663.01 l3.5 3.5 l-3.5 3.5 l-3.5 -3.5z M280.06 670.96 l3.5 3.5 l-3.5 3.5 l-3.5 -3.5z M297.14 657.95 l3.5 3.5 l-3.5 3.5 l-3.5 -3.5z M314.22 660.84 l3.5 3.5 l-3.5 3.5 l-3.5 -3.5z M331.29 668.79 l3.5 3.5 l-3.5 3.5 l-3.5 -3.5z M348.37 675.78 l3.5 3.5 l-3.5 3.5 l-3.5 -3.5z M365.45 677.95 l3.5 3.5 l-3.5 3.5 l-3.5 -3.5z M382.53 687.10 l3.5 3.5 l-3.5 3.5 l-3.5 -3.5z M399.61 679.87 l3.5 3.5 l-3.5 3.5 l-3.5 -3.5z M416.69 679.87 l3.5 3.5 l-3.5 3.5 l-3.5 -3.5z M433.76 676.98 l3.5 3.5 l-3.5 3.5 l-3.5 -3.5z M450.84 679.87 l3.5 3.5 l-3.5 3.5 l-3.5 -3.5z M467.92 684.93 l3.5 3.5 l-3.5 3.5 l-3.5 -3.5z M485.00 682.77 l3.5 3.5 l-3.5 3.5 l-3.5 -3.5z M502.08 678.88 l3.5 3.5 l-3.5 3.5 l-3.5 -3.5z M519.16 679.84 l3.5 3.5 l-3.5 3.5 l-3.5 -3.5z M536.24 682.96 l3.5 3.5 l-3.5 3.5 l-3.5 -3.5z M553.31 676.96 l3.5 3.5 l-3.5 3.5 l-3.5 -3.5z M570.39 680.80 l3.5 3.5 l-3.5 3.5 l-3.5 -3.5z M587.47 678.88 l3.5 3.5 l-3.5 3.5 l-3.5 -3.5z M604.55 677.92 l3.5 3.5 l-3.5 3.5 l-3.5 -3.5z M621.63 678.88 l3.5 3.5 l-3.5 3.5 l-3.5 -3.5z M638.71 683.92 l3.5 3.5 l-3.5 3.5 l-3.5 -3.5z M655.78 677.92 l3.5 3.5 l-3.5 3.5 l-3.5 -3.5z M672.86 676.96 l3.5 3.5 l-3.5 3.5 l-3.5 -3.5z M689.94 680.80 l3.5 3.5 l-3.5 3.5 l-3.5 -3.5z M707.02 674.80 l3.5 3.5 l-3.5 3.5 l-3.5 -3.5z M724.10 671.92 l3.5 3.5 l-3.5 3.5 l-3.5 -3.5z M741.18 666.86 l3.5 3.5 l-3.5 3.5 l-3.5 -3.5z M758.25 669.75 l3.5 3.5 l-3.5 3.5 l-3.5 -3.5z M775.33 672.89 l3.5 3.5 l-3.5 3.5 l-3.5 -3.5z M792.41 657.95 l3.5 3.5 l-3.5 3.5 l-3.5 -3.5z M809.49 663.97 l3.5 3.5 l-3.5 3.5 l-3.5 -3.5z M826.57 678.91 l3.5 3.5 l-3.5 3.5 l-3.5 -3.5z M843.65 674.81 l3.5 3.5 l-3.5 3.5 l-3.5 -3.5z M860.73 667.83 l3.5 3.5 l-3.5 3.5 l-3.5 -3.5z M877.80 660.84 l3.5 3.5 l-3.5 3.5 l-3.5 -3.5z M894.88 666.86 l3.5 3.5 l-3.5 3.5 l-3.5 -3.5z M911.96 675.78 l3.5 3.5 l-3.5 3.5 l-3.5 -3.5z" fill="#C40000"/>
<text x="39.30" y="699.70" font-size="12" text-anchor="end">0</text><text x="948.20" y="699.70" font-size="12">0</text><text x="39.30" y="678.22" font-size="12" text-anchor="end">2000</text><text x="948.20" y="678.22" font-size="12">2</text><text x="39.30" y="656.73" font-size="12" text-anchor="end">4000</text><text x="948.20" y="656.73" font-size="12">4</text><text x="39.30" y="635.25" font-size="12" text-anchor="end">6000</text><text x="948.20" y="635.25" font-size="12">6</text><text x="39.30" y="613.77" font-size="12" text-anchor="end">8000</text><text x="948.20" y="613.77" font-size="12">8</text><text x="39.30" y="592.28" font-size="12" text-anchor="end">10000</text><text x="948.20" y="592.28" font-size="12">10</text><text x="39.30" y="570.80" font-size="12" text-anchor="end">12000</text><text x="948.20" y="570.80" font-size="12">12</text><text transform="translate(58.04 715.60) scale(1 1.15)" font-size="12" text-anchor="middle">35</text><text transform="translate(92.20 715.60) scale(1 1.15)" font-size="12" text-anchor="middle">37</text><text transform="translate(126.35 715.60) scale(1 1.15)" font-size="12" text-anchor="middle">39</text><text transform="translate(160.51 715.60) scale(1 1.15)" font-size="12" text-anchor="middle">41</text><text transform="translate(194.67 715.60) scale(1 1.15)" font-size="12" text-anchor="middle">43</text><text transform="translate(228.82 715.60) scale(1 1.15)" font-size="12" text-anchor="middle">45</text><text transform="translate(262.98 715.60) scale(1 1.15)" font-size="12" text-anchor="middle">47</text><text transform="translate(297.14 715.60) scale(1 1.15)" font-size="12" text-anchor="middle">49</text><text transform="translate(331.29 715.60) scale(1 1.15)" font-size="12" text-anchor="middle">51</text><text transform="translate(365.45 715.60) scale(1 1.15)" font-size="12" text-anchor="middle">1</text><text transform="translate(399.61 715.60) scale(1 1.15)" font-size="12" text-anchor="middle">3</text><text transform="translate(433.76 715.60) scale(1 1.15)" font-size="12" text-anchor="middle">5</text><text transform="translate(467.92 715.60) scale(1 1.15)" font-size="12" text-anchor="middle">7</text><text transform="translate(502.08 715.60) scale(1 1.15)" font-size="12" text-anchor="middle">9</text><text transform="translate(536.24 715.60) scale(1 1.15)" font-size="12" text-anchor="middle">11</text><text transform="translate(570.39 715.60) scale(1 1.15)" font-size="12" text-anchor="middle">13</text><text transform="translate(604.55 715.60) scale(1 1.15)" font-size="12" text-anchor="middle">15</text><text transform="translate(638.71 715.60) scale(1 1.15)" font-size="12" text-anchor="middle">17</text><text transform="translate(672.86 715.60) scale(1 1.15)" font-size="12" text-anchor="middle">19</text><text transform="translate(707.02 715.60) scale(1 1.15)" font-size="12" text-anchor="middle">21</text><text transform="translate(741.18 715.60) scale(1 1.15)" font-size="12" text-anchor="middle">23</text><text transform="translate(775.33 715.60) scale(1 1.15)" font-size="12" text-anchor="middle">25</text><text transform="translate(809.49 715.60) scale(1 1.15)" font-size="12" text-anchor="middle">27</text><text transform="translate(843.65 715.60) scale(1 1.15)" font-size="12" text-anchor="middle">29</text><text transform="translate(877.80 715.60) scale(1 1.15)" font-size="12" text-anchor="middle">31</text><text transform="translate(911.96 715.60) scale(1 1.15)" font-size="12" text-anchor="middle">33</text>
<text x="483.8" y="578.5" font-size="15.8" text-anchor="middle">Ontario (ON)</text>
<g fill="#CCE9FA" stroke="#000" stroke-width="1.20"><rect x="50.5" y="862.5" width="15.0" height="8.0"/><rect x="67.5" y="859.5" width="15.0" height="11.0"/><rect x="84.5" y="861.5" width="15.0" height="9.0"/><rect x="101.5" y="861.5" width="16.0" height="9.0"/><rect x="118.5" y="862.5" width="16.0" height="8.0"/><rect x="135.5" y="862.5" width="16.0" height="8.0"/><rect x="152.5" y="862.5" width="16.0" height="8.0"/><rect x="169.5" y="862.5" width="16.0" height="8.0"/><rect x="186.5" y="861.5" width="16.0" height="9.0"/><rect x="203.5" y="861.5" width="17.0" height="9.0"/><rect x="221.5" y="860.5" width="15.0" height="10.0"/><rect x="238.5" y="859.5" width="15.0" height="11.0"/><rect x="255.5" y="858.5" width="15.0" height="12.0"/><rect x="272.5" y="859.5" width="15.0" height="11.0"/><rect x="289.5" y="858.5" width="15.0" height="12.0"/><rect x="306.5" y="859.5" width="15.0" height="11.0"/><rect x="323.5" y="859.5" width="15.0" height="11.0"/><rect x="340.5" y="857.5" width="15.0" height="13.0"/><rect x="357.5" y="854.5" width="15.0" height="16.0"/><rect x="374.5" y="852.5" width="16.0" height="18.0"/><rect x="391.5" y="854.5" width="16.0" height="16.0"/><rect x="408.5" y="854.5" width="16.0" height="16.0"/><rect x="425.5" y="856.5" width="16.0" height="14.0"/><rect x="442.5" y="859.5" width="16.0" height="11.0"/><rect x="459.5" y="861.5" width="16.0" height="9.0"/><rect x="476.5" y="862.5" width="17.0" height="8.0"/><rect x="494.5" y="860.5" width="16.0" height="10.0"/><rect x="511.5" y="860.5" width="15.0" height="10.0"/><rect x="528.5" y="860.5" width="15.0" height="10.0"/><rect x="545.5" y="860.5" width="15.0" height="10.0"/><rect x="562.5" y="859.5" width="15.0" height="11.0"/><rect x="579.5" y="856.5" width="15.0" height="14.0"/><rect x="596.5" y="856.5" width="15.0" height="14.0"/><rect x="613.5" y="855.5" width="15.0" height="15.0"/><rect x="630.5" y="854.5" width="15.0" height="16.0"/><rect x="647.5" y="854.5" width="15.0" height="16.0"/><rect x="664.5" y="854.5" width="16.0" height="16.0"/><rect x="681.5" y="857.5" width="16.0" height="13.0"/><rect x="698.5" y="858.5" width="16.0" height="12.0"/><rect x="715.5" y="858.5" width="16.0" height="12.0"/><rect x="732.5" y="857.5" width="16.0" height="13.0"/><rect x="749.5" y="858.5" width="17.0" height="12.0"/><rect x="767.5" y="859.5" width="16.0" height="11.0"/><rect x="784.5" y="860.5" width="15.0" height="10.0"/><rect x="801.5" y="860.5" width="15.0" height="10.0"/><rect x="818.5" y="860.5" width="15.0" height="10.0"/><rect x="835.5" y="859.5" width="15.0" height="11.0"/><rect x="852.5" y="859.5" width="15.0" height="11.0"/><rect x="869.5" y="859.5" width="15.0" height="11.0"/><rect x="886.5" y="859.5" width="15.0" height="11.0"/><rect x="903.5" y="859.5" width="15.0" height="11.0"/></g>
<path d="M49.5 736.50 V870.5 M936.5 736.50 V870.5 M49.5 870.5 H936.5 M45.5 870.5 H53.5 M932.5 870.5 H941.0 M45.5 848.5 H53.5 M932.5 848.5 H941.0 M45.5 825.5 H53.5 M932.5 825.5 H941.0 M45.5 803.5 H53.5 M932.5 803.5 H941.0 M45.5 781.5 H53.5 M932.5 781.5 H941.0 M45.5 758.5 H53.5 M932.5 758.5 H941.0 M45.5 736.5 H53.5 M932.5 736.5 H941.0 M49.5 866.3 V874.9 M66.5 866.3 V874.9 M83.5 866.3 V874.9 M100.5 866.3 V874.9 M117.5 866.3 V874.9 M134.5 866.3 V874.9 M151.5 866.3 V874.9 M168.5 866.3 V874.9 M185.5 866.3 V874.9 M202.5 866.3 V874.9 M220.5 866.3 V874.9 M237.5 866.3 V874.9 M254.5 866.3 V874.9 M271.5 866.3 V874.9 M288.5 866.3 V874.9 M305.5 866.3 V874.9 M322.5 866.3 V874.9 M339.5 866.3 V874.9 M356.5 866.3 V874.9 M373.5 866.3 V874.9 M390.5 866.3 V874.9 M407.5 866.3 V874.9 M424.5 866.3 V874.9 M441.5 866.3 V874.9 M458.5 866.3 V874.9 M475.5 866.3 V874.9 M493.5 866.3 V874.9 M510.5 866.3 V874.9 M527.5 866.3 V874.9 M544.5 866.3 V874.9 M561.5 866.3 V874.9 M578.5 866.3 V874.9 M595.5 866.3 V874.9 M612.5 866.3 V874.9 M629.5 866.3 V874.9 M646.5 866.3 V874.9 M663.5 866.3 V874.9 M680.5 866.3 V874.9 M697.5 866.3 V874.9 M714.5 866.3 V874.9 M731.5 866.3 V874.9 M748.5 866.3 V874.9 M766.5 866.3 V874.9 M783.5 866.3 V874.9 M800.5 866.3 V874.9 M817.5 866.3 V874.9 M834.5 866.3 V874.9 M851.5 866.3 V874.9 M868.5 866.3 V874.9 M885.5 866.3 V874.9 M902.5 866.3 V874.9 M919.5 866.3 V874.9 M936.5 866.3 V874.9" stroke="#000" stroke-width="1.20" fill="none"/>
<polyline points="57.93,864.64 74.99,863.67 92.06,868.73 109.12,865.60 126.18,857.41 143.25,851.63 160.31,859.58 177.37,860.54 194.43,859.58 211.50,854.28 228.56,857.41 245.62,847.29 262.68,862.47 279.75,854.28 296.81,859.58 313.87,851.63 330.94,857.41 348.00,856.45 365.06,861.51 382.12,856.45 399.19,862.47 416.25,864.64 433.31,862.47 450.37,863.67 467.44,859.34 484.50,850.42 501.56,858.34 518.63,851.38 535.69,844.42 552.75,848.26 569.81,848.26 586.88,857.38 603.94,855.46 621.00,855.46 638.06,856.42 655.13,857.38 672.19,861.22 689.25,858.34 706.32,846.34 723.38,851.39 740.44,850.42 757.50,853.31 774.57,853.31 791.63,846.33 808.69,847.29 825.75,835.48 842.82,849.46 859.88,840.30 876.94,846.33 894.01,847.29 911.07,841.51" fill="none" stroke="#C40000" stroke-width="1"/>
<path d="M57.93 861.14 l3.5 3.5 l-3.5 3.5 l-3.5 -3.5z M74.99 860.17 l3.5 3.5 l-3.5 3.5 l-3.5 -3.5z M92.06 865.23 l3.5 3.5 l-3.5 3.5 l-3.5 -3.5z M109.12 862.10 l3.5 3.5 l-3.5 3.5 l-3.5 -3.5z M126.18 853.91 l3.5 3.5 l-3.5 3.5 l-3.5 -3.5z M143.25 848.13 l3.5 3.5 l-3.5 3.5 l-3.5 -3.5z M160.31 856.08 l3.5 3.5 l-3.5 3.5 l-3.5 -3.5z M177.37 857.04 l3.5 3.5 l-3.5 3.5 l-3.5 -3.5z M194.43 856.08 l3.5 3.5 l-3.5 3.5 l-3.5 -3.5z M211.50 850.78 l3.5 3.5 l-3.5 3.5 l-3.5 -3.5z M228.56 853.91 l3.5 3.5 l-3.5 3.5 l-3.5 -3.5z M245.62 843.79 l3.5 3.5 l-3.5 3.5 l-3.5 -3.5z M262.68 858.97 l3.5 3.5 l-3.5 3.5 l-3.5 -3.5z M279.75 850.78 l3.5 3.5 l-3.5 3.5 l-3.5 -3.5z M296.81 856.08 l3.5 3.5 l-3.5 3.5 l-3.5 -3.5z M313.87 848.13 l3.5 3.5 l-3.5 3.5 l-3.5 -3.5z M330.94 853.91 l3.5 3.5 l-3.5 3.5 l-3.5 -3.5z M348.00 852.95 l3.5 3.5 l-3.5 3.5 l-3.5 -3.5z M365.06 858.01 l3.5 3.5 l-3.5 3.5 l-3.5 -3.5z M382.12 852.95 l3.5 3.5 l-3.5 3.5 l-3.5 -3.5z M399.19 858.97 l3.5 3.5 l-3.5 3.5 l-3.5 -3.5z M416.25 861.14 l3.5 3.5 l-3.5 3.5 l-3.5 -3.5z M433.31 858.97 l3.5 3.5 l-3.5 3.5 l-3.5 -3.5z M450.37 860.17 l3.5 3.5 l-3.5 3.5 l-3.5 -3.5z M467.44 855.84 l3.5 3.5 l-3.5 3.5 l-3.5 -3.5z M484.50 846.92 l3.5 3.5 l-3.5 3.5 l-3.5 -3.5z M501.56 854.84 l3.5 3.5 l-3.5 3.5 l-3.5 -3.5z M518.63 847.88 l3.5 3.5 l-3.5 3.5 l-3.5 -3.5z M535.69 840.92 l3.5 3.5 l-3.5 3.5 l-3.5 -3.5z M552.75 844.76 l3.5 3.5 l-3.5 3.5 l-3.5 -3.5z M569.81 844.76 l3.5 3.5 l-3.5 3.5 l-3.5 -3.5z M586.88 853.88 l3.5 3.5 l-3.5 3.5 l-3.5 -3.5z M603.94 851.96 l3.5 3.5 l-3.5 3.5 l-3.5 -3.5z M621.00 851.96 l3.5 3.5 l-3.5 3.5 l-3.5 -3.5z M638.06 852.92 l3.5 3.5 l-3.5 3.5 l-3.5 -3.5z M655.13 853.88 l3.5 3.5 l-3.5 3.5 l-3.5 -3.5z M672.19 857.72 l3.5 3.5 l-3.5 3.5 l-3.5 -3.5z M689.25 854.84 l3.5 3.5 l-3.5 3.5 l-3.5 -3.5z M706.32 842.84 l3.5 3.5 l-3.5 3.5 l-3.5 -3.5z M723.38 847.89 l3.5 3.5 l-3.5 3.5 l-3.5 -3.5z M740.44 846.92 l3.5 3.5 l-3.5 3.5 l-3.5 -3.5z M757.50 849.81 l3.5 3.5 l-3.5 3.5 l-3.5 -3.5z M774.57 849.81 l3.5 3.5 l-3.5 3.5 l-3.5 -3.5z M791.63 842.83 l3.5 3.5 l-3.5 3.5 l-3.5 -3.5z M808.69 843.79 l3.5 3.5 l-3.5 3.5 l-3.5 -3.5z M825.75 831.98 l3.5 3.5 l-3.5 3.5 l-3.5 -3.5z M842.82 845.96 l3.5 3.5 l-3.5 3.5 l-3.5 -3.5z M859.88 836.80 l3.5 3.5 l-3.5 3.5 l-3.5 -3.5z M876.94 842.83 l3.5 3.5 l-3.5 3.5 l-3.5 -3.5z M894.01 843.79 l3.5 3.5 l-3.5 3.5 l-3.5 -3.5z M911.07 838.01 l3.5 3.5 l-3.5 3.5 l-3.5 -3.5z" fill="#C40000"/>
<text x="39.20" y="874.80" font-size="12" text-anchor="end">0</text><text x="947.20" y="874.80" font-size="12">0</text><text x="39.20" y="852.47" font-size="12" text-anchor="end">2000</text><text x="947.20" y="852.47" font-size="12">2</text><text x="39.20" y="830.13" font-size="12" text-anchor="end">4000</text><text x="947.20" y="830.13" font-size="12">4</text><text x="39.20" y="807.80" font-size="12" text-anchor="end">6000</text><text x="947.20" y="807.80" font-size="12">6</text><text x="39.20" y="785.47" font-size="12" text-anchor="end">8000</text><text x="947.20" y="785.47" font-size="12">8</text><text x="39.20" y="763.13" font-size="12" text-anchor="end">10000</text><text x="947.20" y="763.13" font-size="12">10</text><text x="39.20" y="740.80" font-size="12" text-anchor="end">12000</text><text x="947.20" y="740.80" font-size="12">12</text><text transform="translate(57.93 890.90) scale(1 1.15)" font-size="12" text-anchor="middle">35</text><text transform="translate(92.06 890.90) scale(1 1.15)" font-size="12" text-anchor="middle">37</text><text transform="translate(126.18 890.90) scale(1 1.15)" font-size="12" text-anchor="middle">39</text><text transform="translate(160.31 890.90) scale(1 1.15)" font-size="12" text-anchor="middle">41</text><text transform="translate(194.43 890.90) scale(1 1.15)" font-size="12" text-anchor="middle">43</text><text transform="translate(228.56 890.90) scale(1 1.15)" font-size="12" text-anchor="middle">45</text><text transform="translate(262.68 890.90) scale(1 1.15)" font-size="12" text-anchor="middle">47</text><text transform="translate(296.81 890.90) scale(1 1.15)" font-size="12" text-anchor="middle">49</text><text transform="translate(330.94 890.90) scale(1 1.15)" font-size="12" text-anchor="middle">51</text><text transform="translate(365.06 890.90) scale(1 1.15)" font-size="12" text-anchor="middle">1</text><text transform="translate(399.19 890.90) scale(1 1.15)" font-size="12" text-anchor="middle">3</text><text transform="translate(433.31 890.90) scale(1 1.15)" font-size="12" text-anchor="middle">5</text><text transform="translate(467.44 890.90) scale(1 1.15)" font-size="12" text-anchor="middle">7</text><text transform="translate(501.56 890.90) scale(1 1.15)" font-size="12" text-anchor="middle">9</text><text transform="translate(535.69 890.90) scale(1 1.15)" font-size="12" text-anchor="middle">11</text><text transform="translate(569.81 890.90) scale(1 1.15)" font-size="12" text-anchor="middle">13</text><text transform="translate(603.94 890.90) scale(1 1.15)" font-size="12" text-anchor="middle">15</text><text transform="translate(638.06 890.90) scale(1 1.15)" font-size="12" text-anchor="middle">17</text><text transform="translate(672.19 890.90) scale(1 1.15)" font-size="12" text-anchor="middle">19</text><text transform="translate(706.32 890.90) scale(1 1.15)" font-size="12" text-anchor="middle">21</text><text transform="translate(740.44 890.90) scale(1 1.15)" font-size="12" text-anchor="middle">23</text><text transform="translate(774.57 890.90) scale(1 1.15)" font-size="12" text-anchor="middle">25</text><text transform="translate(808.69 890.90) scale(1 1.15)" font-size="12" text-anchor="middle">27</text><text transform="translate(842.82 890.90) scale(1 1.15)" font-size="12" text-anchor="middle">29</text><text transform="translate(876.94 890.90) scale(1 1.15)" font-size="12" text-anchor="middle">31</text><text transform="translate(911.07 890.90) scale(1 1.15)" font-size="12" text-anchor="middle">33</text>
<text x="483.3" y="752.7" font-size="15.8" text-anchor="middle">Prairies (Pr)</text>
<g fill="#CCE9FA" stroke="#000" stroke-width="1.20"><rect x="51.5" y="1049.5" width="16.0" height="4.0"/><rect x="68.5" y="1049.5" width="16.0" height="4.0"/><rect x="85.5" y="1049.5" width="16.0" height="4.0"/><rect x="102.5" y="1047.5" width="16.0" height="6.0"/><rect x="119.5" y="1047.5" width="16.0" height="6.0"/><rect x="136.5" y="1047.5" width="16.0" height="6.0"/><rect x="153.5" y="1047.5" width="16.0" height="6.0"/><rect x="170.5" y="1046.5" width="16.0" height="7.0"/><rect x="187.5" y="1046.5" width="17.0" height="7.0"/><rect x="205.5" y="1045.5" width="16.0" height="8.0"/><rect x="222.5" y="1044.5" width="16.0" height="9.0"/><rect x="239.5" y="1044.5" width="16.0" height="9.0"/><rect x="256.5" y="1045.5" width="16.0" height="8.0"/><rect x="273.5" y="1045.5" width="16.0" height="8.0"/><rect x="290.5" y="1045.5" width="16.0" height="8.0"/><rect x="307.5" y="1045.5" width="16.0" height="8.0"/><rect x="324.5" y="1044.5" width="16.0" height="9.0"/><rect x="341.5" y="1044.5" width="16.0" height="9.0"/><rect x="358.5" y="1047.5" width="16.0" height="6.0"/><rect x="375.5" y="1046.5" width="16.0" height="7.0"/><rect x="392.5" y="1044.5" width="16.0" height="9.0"/><rect x="409.5" y="1044.5" width="16.0" height="9.0"/><rect x="426.5" y="1045.5" width="16.0" height="8.0"/><rect x="443.5" y="1046.5" width="16.0" height="7.0"/><rect x="460.5" y="1047.5" width="16.0" height="6.0"/><rect x="477.5" y="1046.5" width="17.0" height="7.0"/><rect x="495.5" y="1047.5" width="16.0" height="6.0"/><rect x="512.5" y="1047.5" width="16.0" height="6.0"/><rect x="529.5" y="1048.5" width="16.0" height="5.0"/><rect x="546.5" y="1046.5" width="16.0" height="7.0"/><rect x="563.5" y="1046.5" width="16.0" height="7.0"/><rect x="580.5" y="1047.5" width="16.0" height="6.0"/><rect x="597.5" y="1045.5" width="16.0" height="8.0"/><rect x="614.5" y="1045.5" width="16.0" height="8.0"/><rect x="631.5" y="1044.5" width="16.0" height="9.0"/><rect x="648.5" y="1044.5" width="16.0" height="9.0"/><rect x="665.5" y="1045.5" width="16.0" height="8.0"/><rect x="682.5" y="1044.5" width="16.0" height="9.0"/><rect x="699.5" y="1044.5" width="16.0" height="9.0"/><rect x="716.5" y="1045.5" width="16.0" height="8.0"/><rect x="733.5" y="1046.5" width="16.0" height="7.0"/><rect x="750.5" y="1046.5" width="16.0" height="7.0"/><rect x="767.5" y="1045.5" width="17.0" height="8.0"/><rect x="785.5" y="1046.5" width="16.0" height="7.0"/><rect x="802.5" y="1045.5" width="16.0" height="8.0"/><rect x="819.5" y="1046.5" width="16.0" height="7.0"/><rect x="836.5" y="1046.5" width="16.0" height="7.0"/><rect x="853.5" y="1047.5" width="16.0" height="6.0"/><rect x="870.5" y="1047.5" width="16.0" height="6.0"/><rect x="887.5" y="1047.5" width="16.0" height="6.0"/></g>
<path d="M50.5 918.60 V1053.5 M937.5 918.60 V1053.5 M50.5 1053.5 H937.5 M46.5 1053.5 H54.5 M933.5 1053.5 H942.0 M46.5 1031.5 H54.5 M933.5 1031.5 H942.0 M46.5 1008.5 H54.5 M933.5 1008.5 H942.0 M46.5 986.5 H54.5 M933.5 986.5 H942.0 M46.5 963.5 H54.5 M933.5 963.5 H942.0 M46.5 941.5 H54.5 M933.5 941.5 H942.0 M46.5 918.5 H54.5 M933.5 918.5 H942.0 M50.5 1049.3 V1057.9 M67.5 1049.3 V1057.9 M84.5 1049.3 V1057.9 M101.5 1049.3 V1057.9 M118.5 1049.3 V1057.9 M135.5 1049.3 V1057.9 M152.5 1049.3 V1057.9 M169.5 1049.3 V1057.9 M186.5 1049.3 V1057.9 M204.5 1049.3 V1057.9 M221.5 1049.3 V1057.9 M238.5 1049.3 V1057.9 M255.5 1049.3 V1057.9 M272.5 1049.3 V1057.9 M289.5 1049.3 V1057.9 M306.5 1049.3 V1057.9 M323.5 1049.3 V1057.9 M340.5 1049.3 V1057.9 M357.5 1049.3 V1057.9 M374.5 1049.3 V1057.9 M391.5 1049.3 V1057.9 M408.5 1049.3 V1057.9 M425.5 1049.3 V1057.9 M442.5 1049.3 V1057.9 M459.5 1049.3 V1057.9 M476.5 1049.3 V1057.9 M494.5 1049.3 V1057.9 M511.5 1049.3 V1057.9 M528.5 1049.3 V1057.9 M545.5 1049.3 V1057.9 M562.5 1049.3 V1057.9 M579.5 1049.3 V1057.9 M596.5 1049.3 V1057.9 M613.5 1049.3 V1057.9 M630.5 1049.3 V1057.9 M647.5 1049.3 V1057.9 M664.5 1049.3 V1057.9 M681.5 1049.3 V1057.9 M698.5 1049.3 V1057.9 M715.5 1049.3 V1057.9 M732.5 1049.3 V1057.9 M749.5 1049.3 V1057.9 M766.5 1049.3 V1057.9 M784.5 1049.3 V1057.9 M801.5 1049.3 V1057.9 M818.5 1049.3 V1057.9 M835.5 1049.3 V1057.9 M852.5 1049.3 V1057.9 M869.5 1049.3 V1057.9 M886.5 1049.3 V1057.9 M903.5 1049.3 V1057.9 M920.5 1049.3 V1057.9 M937.5 1049.3 V1057.9" stroke="#000" stroke-width="1.20" fill="none"/>
<polyline points="59.03,1049.70 76.09,1042.71 93.15,1041.27 110.21,1028.49 127.26,1040.54 144.32,1051.87 161.38,1051.87 178.44,1047.53 195.50,1049.70 212.56,1037.65 229.62,1039.58 246.68,1019.58 263.74,1034.52 280.79,1033.31 297.85,1031.39 314.91,1022.47 331.97,1011.39 349.03,1023.43 366.09,1014.28 383.15,1025.36 400.21,1033.31 417.26,1034.28 434.32,1034.28 451.38,1030.42 468.44,1031.39 485.50,1033.31 502.56,1023.22 519.62,1023.22 536.68,1028.26 553.74,1035.22 570.79,1018.19 587.85,1028.26 604.91,1027.30 621.97,1024.18 639.03,1032.34 656.09,1031.38 673.15,1026.34 690.21,1024.18 707.26,1024.18 724.32,1034.28 741.38,1036.45 758.44,1020.30 775.50,1036.45 792.56,1020.30 809.62,1019.34 826.68,1021.27 843.74,1010.42 860.79,1019.34 877.85,1013.31 894.91,1016.45" fill="none" stroke="#C40000" stroke-width="1"/>
<path d="M59.03 1046.20 l3.5 3.5 l-3.5 3.5 l-3.5 -3.5z M76.09 1039.21 l3.5 3.5 l-3.5 3.5 l-3.5 -3.5z M93.15 1037.77 l3.5 3.5 l-3.5 3.5 l-3.5 -3.5z M110.21 1024.99 l3.5 3.5 l-3.5 3.5 l-3.5 -3.5z M127.26 1037.04 l3.5 3.5 l-3.5 3.5 l-3.5 -3.5z M144.32 1048.37 l3.5 3.5 l-3.5 3.5 l-3.5 -3.5z M161.38 1048.37 l3.5 3.5 l-3.5 3.5 l-3.5 -3.5z M178.44 1044.03 l3.5 3.5 l-3.5 3.5 l-3.5 -3.5z M195.50 1046.20 l3.5 3.5 l-3.5 3.5 l-3.5 -3.5z M212.56 1034.15 l3.5 3.5 l-3.5 3.5 l-3.5 -3.5z M229.62 1036.08 l3.5 3.5 l-3.5 3.5 l-3.5 -3.5z M246.68 1016.08 l3.5 3.5 l-3.5 3.5 l-3.5 -3.5z M263.74 1031.02 l3.5 3.5 l-3.5 3.5 l-3.5 -3.5z M280.79 1029.81 l3.5 3.5 l-3.5 3.5 l-3.5 -3.5z M297.85 1027.89 l3.5 3.5 l-3.5 3.5 l-3.5 -3.5z M314.91 1018.97 l3.5 3.5 l-3.5 3.5 l-3.5 -3.5z M331.97 1007.89 l3.5 3.5 l-3.5 3.5 l-3.5 -3.5z M349.03 1019.93 l3.5 3.5 l-3.5 3.5 l-3.5 -3.5z M366.09 1010.78 l3.5 3.5 l-3.5 3.5 l-3.5 -3.5z M383.15 1021.86 l3.5 3.5 l-3.5 3.5 l-3.5 -3.5z M400.21 1029.81 l3.5 3.5 l-3.5 3.5 l-3.5 -3.5z M417.26 1030.78 l3.5 3.5 l-3.5 3.5 l-3.5 -3.5z M434.32 1030.78 l3.5 3.5 l-3.5 3.5 l-3.5 -3.5z M451.38 1026.92 l3.5 3.5 l-3.5 3.5 l-3.5 -3.5z M468.44 1027.89 l3.5 3.5 l-3.5 3.5 l-3.5 -3.5z M485.50 1029.81 l3.5 3.5 l-3.5 3.5 l-3.5 -3.5z M502.56 1019.72 l3.5 3.5 l-3.5 3.5 l-3.5 -3.5z M519.62 1019.72 l3.5 3.5 l-3.5 3.5 l-3.5 -3.5z M536.68 1024.76 l3.5 3.5 l-3.5 3.5 l-3.5 -3.5z M553.74 1031.72 l3.5 3.5 l-3.5 3.5 l-3.5 -3.5z M570.79 1014.69 l3.5 3.5 l-3.5 3.5 l-3.5 -3.5z M587.85 1024.76 l3.5 3.5 l-3.5 3.5 l-3.5 -3.5z M604.91 1023.80 l3.5 3.5 l-3.5 3.5 l-3.5 -3.5z M621.97 1020.68 l3.5 3.5 l-3.5 3.5 l-3.5 -3.5z M639.03 1028.84 l3.5 3.5 l-3.5 3.5 l-3.5 -3.5z M656.09 1027.88 l3.5 3.5 l-3.5 3.5 l-3.5 -3.5z M673.15 1022.84 l3.5 3.5 l-3.5 3.5 l-3.5 -3.5z M690.21 1020.68 l3.5 3.5 l-3.5 3.5 l-3.5 -3.5z M707.26 1020.68 l3.5 3.5 l-3.5 3.5 l-3.5 -3.5z M724.32 1030.78 l3.5 3.5 l-3.5 3.5 l-3.5 -3.5z M741.38 1032.95 l3.5 3.5 l-3.5 3.5 l-3.5 -3.5z M758.44 1016.80 l3.5 3.5 l-3.5 3.5 l-3.5 -3.5z M775.50 1032.95 l3.5 3.5 l-3.5 3.5 l-3.5 -3.5z M792.56 1016.80 l3.5 3.5 l-3.5 3.5 l-3.5 -3.5z M809.62 1015.84 l3.5 3.5 l-3.5 3.5 l-3.5 -3.5z M826.68 1017.77 l3.5 3.5 l-3.5 3.5 l-3.5 -3.5z M843.74 1006.92 l3.5 3.5 l-3.5 3.5 l-3.5 -3.5z M860.79 1015.84 l3.5 3.5 l-3.5 3.5 l-3.5 -3.5z M877.85 1009.81 l3.5 3.5 l-3.5 3.5 l-3.5 -3.5z M894.91 1012.95 l3.5 3.5 l-3.5 3.5 l-3.5 -3.5z" fill="#C40000"/>
<text x="40.30" y="1057.80" font-size="12" text-anchor="end">0</text><text x="948.10" y="1057.80" font-size="12">0</text><text x="40.30" y="1035.32" font-size="12" text-anchor="end">2000</text><text x="948.10" y="1035.32" font-size="12">2</text><text x="40.30" y="1012.83" font-size="12" text-anchor="end">4000</text><text x="948.10" y="1012.83" font-size="12">4</text><text x="40.30" y="990.35" font-size="12" text-anchor="end">6000</text><text x="948.10" y="990.35" font-size="12">6</text><text x="40.30" y="967.87" font-size="12" text-anchor="end">8000</text><text x="948.10" y="967.87" font-size="12">8</text><text x="40.30" y="945.38" font-size="12" text-anchor="end">10000</text><text x="948.10" y="945.38" font-size="12">10</text><text x="40.30" y="922.90" font-size="12" text-anchor="end">12000</text><text x="948.10" y="922.90" font-size="12">12</text><text transform="translate(59.03 1073.00) scale(1 1.15)" font-size="12" text-anchor="middle">35</text><text transform="translate(93.15 1073.00) scale(1 1.15)" font-size="12" text-anchor="middle">37</text><text transform="translate(127.26 1073.00) scale(1 1.15)" font-size="12" text-anchor="middle">39</text><text transform="translate(161.38 1073.00) scale(1 1.15)" font-size="12" text-anchor="middle">41</text><text transform="translate(195.50 1073.00) scale(1 1.15)" font-size="12" text-anchor="middle">43</text><text transform="translate(229.62 1073.00) scale(1 1.15)" font-size="12" text-anchor="middle">45</text><text transform="translate(263.74 1073.00) scale(1 1.15)" font-size="12" text-anchor="middle">47</text><text transform="translate(297.85 1073.00) scale(1 1.15)" font-size="12" text-anchor="middle">49</text><text transform="translate(331.97 1073.00) scale(1 1.15)" font-size="12" text-anchor="middle">51</text><text transform="translate(366.09 1073.00) scale(1 1.15)" font-size="12" text-anchor="middle">1</text><text transform="translate(400.21 1073.00) scale(1 1.15)" font-size="12" text-anchor="middle">3</text><text transform="translate(434.32 1073.00) scale(1 1.15)" font-size="12" text-anchor="middle">5</text><text transform="translate(468.44 1073.00) scale(1 1.15)" font-size="12" text-anchor="middle">7</text><text transform="translate(502.56 1073.00) scale(1 1.15)" font-size="12" text-anchor="middle">9</text><text transform="translate(536.68 1073.00) scale(1 1.15)" font-size="12" text-anchor="middle">11</text><text transform="translate(570.79 1073.00) scale(1 1.15)" font-size="12" text-anchor="middle">13</text><text transform="translate(604.91 1073.00) scale(1 1.15)" font-size="12" text-anchor="middle">15</text><text transform="translate(639.03 1073.00) scale(1 1.15)" font-size="12" text-anchor="middle">17</text><text transform="translate(673.15 1073.00) scale(1 1.15)" font-size="12" text-anchor="middle">19</text><text transform="translate(707.26 1073.00) scale(1 1.15)" font-size="12" text-anchor="middle">21</text><text transform="translate(741.38 1073.00) scale(1 1.15)" font-size="12" text-anchor="middle">23</text><text transform="translate(775.50 1073.00) scale(1 1.15)" font-size="12" text-anchor="middle">25</text><text transform="translate(809.62 1073.00) scale(1 1.15)" font-size="12" text-anchor="middle">27</text><text transform="translate(843.74 1073.00) scale(1 1.15)" font-size="12" text-anchor="middle">29</text><text transform="translate(877.85 1073.00) scale(1 1.15)" font-size="12" text-anchor="middle">31</text><text transform="translate(911.97 1073.00) scale(1 1.15)" font-size="12" text-anchor="middle">33</text>
<text x="482.0" y="926.7" font-size="15.8" text-anchor="middle">British Columbia (BC)</text>
<text x="214.3" y="1096.8" font-size="19">2021</text>
<text x="355" y="1096.8" font-size="19">Surveillance</text>
<text x="470.8" y="1096.8" font-size="19">Week</text>
<text x="601.6" y="1096.8" font-size="19">2022</text>
<rect x="241.5" y="1114.5" width="26" height="10" fill="#CCE9FA" stroke="#000" stroke-width="1.2"/>
<text x="270" y="1125.8" font-size="19">Number of ADV Tests</text>
<path d="M496.5 1119.7 H522.5" stroke="#C40000" stroke-width="1.2"/>
<path d="M509.7 1116.2 l3.5 3.5 l-3.5 3.5 l-3.5 -3.5z" fill="#C40000"/>
<text x="525.3" y="1125.8" font-size="19">% ADV Tests Positive</text>
</svg></body></html>
